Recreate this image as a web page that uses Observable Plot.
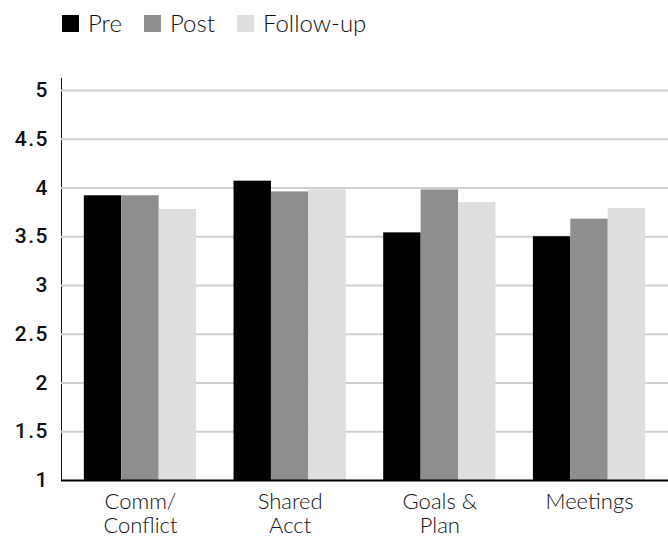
<!DOCTYPE html>
<html>
<head>
<meta charset="utf-8">
<script src="https://cdn.jsdelivr.net/npm/d3@7"></script>
<script src="https://cdn.jsdelivr.net/npm/@observablehq/plot@0.6"></script>
<style>
  html, body { margin: 0; padding: 0; background: #fff; width: 668px; height: 537px; overflow: hidden; }
  #legend { height: 48px; box-sizing: border-box; padding: 0 0 2px 62px; display: flex; align-items: center; font-family: Lato, sans-serif; font-weight: 300; font-size: 24px; color: #111; }
  #legend .item { display: flex; align-items: center; margin-right: 22px; }
  #legend .sw { width: 17px; height: 17px; margin-right: 9px; display: inline-block; }
  #legend .label { line-height: 1; }
  #chart svg g[aria-label*="y-axis"] line,
  #chart svg g[aria-label*="y-axis"] path.domain { stroke-width: 2px; stroke: #000; }
  #chart svg g[aria-label*="y-axis"] text { letter-spacing: 1.5px; }
</style>
</head>
<body>
<div id="legend"></div>
<div id="chart"></div>
<script>
const categories = ["Comm/\nConflict", "Shared\nAcct", "Goals &\nPlan", "Meetings"];
const series = ["Pre", "Post", "Follow-up"];
const seriesColors = ["#000000", "#8e8e8e", "#dedede"];
const preValues = [3.92, 4.07, 3.54, 3.50];
const postValues = [3.92, 3.96, 3.98, 3.68];
const followValues = [3.78, 3.98, 3.85, 3.79];
const yTicks = [1, 1.5, 2, 2.5, 3, 3.5, 4, 4.5, 5];

const valuesBySeries = [preValues, postValues, followValues];
const data = categories.flatMap((c, i) =>
  series.map((s, j) => ({category: c, series: s, value: valuesBySeries[j][i]}))
);
const key = (c, s) => c + "|" + s;
const xDomain = categories.flatMap((c, i) => [
  ...(i ? ["gap" + i] : []),
  ...series.map(s => key(c, s))
]);

// legend
const legend = document.getElementById("legend");
series.forEach((s, j) => {
  const item = document.createElement("div");
  item.className = "item";
  const sw = document.createElement("span");
  sw.className = "sw";
  sw.style.background = seriesColors[j];
  const lab = document.createElement("span");
  lab.className = "label";
  lab.textContent = s;
  item.append(sw, lab);
  legend.append(item);
});

const chart = Plot.plot({
  width: 668,
  height: 489,
  marginLeft: 61,
  marginRight: 0,
  marginTop: 30,
  marginBottom: 57,
  style: {fontFamily: "Roboto", fontSize: "21px", fontWeight: "500", color: "#111", background: "white"},
  x: {domain: xDomain, paddingInner: 0, paddingOuter: 0.61, round: false, axis: null},
  y: {domain: [1, 5.123], ticks: yTicks, tickSize: 0, tickPadding: 12.5, label: null, line: true, tickFormat: d => String(d)},
  color: {domain: series, range: seriesColors},
  marks: [
    Plot.ruleY(yTicks.slice(1), {stroke: "#d0d0d0", strokeWidth: 2}),
    Plot.barY(data, {x: d => key(d.category, d.series), y1: 1, y2: "value", fill: "series"}),
    Plot.ruleY([1], {stroke: "#000", strokeWidth: 2}),
    Plot.text(categories, {
      x: d => key(d, "Post"), text: d => d, frameAnchor: "bottom", lineAnchor: "top",
      dy: 11, lineHeight: 1.1, fontSize: 22, fontFamily: "Lato", fontWeight: 300, fill: "#111"
    })
  ]
});
document.getElementById("chart").append(chart);
</script>
</body>
</html>
